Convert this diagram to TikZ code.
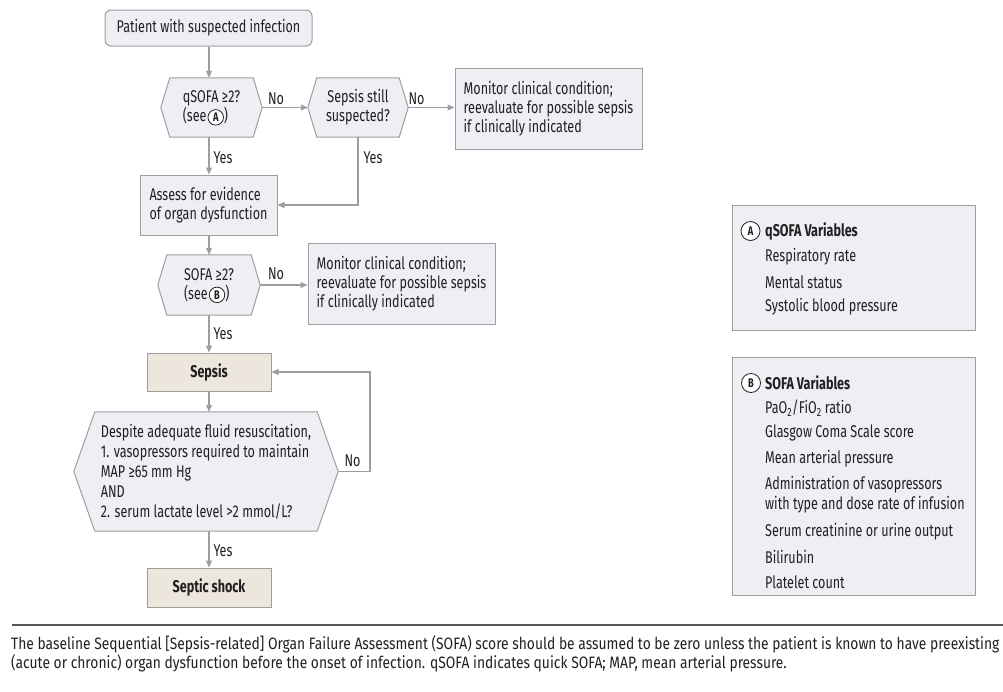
\documentclass[tikz,border=0pt]{standalone}
\usepackage{fontspec}
\usepackage{pict2e}
\setmainfont[FakeStretch=0.74]{Fira Sans}
\newfontfamily\footfont[FakeStretch=0.838]{Fira Sans}
\usetikzlibrary{arrows.meta,backgrounds}
\definecolor{boxfill}{RGB}{238,238,244}
\definecolor{beige}{RGB}{236,230,220}
\definecolor{edge}{RGB}{158,158,158}
\definecolor{ink}{RGB}{35,31,32}
\definecolor{rule}{RGB}{85,85,85}
\newcommand\drawhex[2]{%
  \begin{pgfonlayer}{background}
    \draw[draw=edge,fill=boxfill,line width=1pt]
      ([xshift=#2pt]#1.north west) -- ([xshift=-#2pt]#1.north east) -- (#1.east)
      -- ([xshift=-#2pt]#1.south east) -- ([xshift=#2pt]#1.south west) -- (#1.west) -- cycle;
  \end{pgfonlayer}}
\newcommand\circlet[1]{{\setlength{\unitlength}{1pt}\hspace{1.5pt}%
  \begin{picture}(15.5,0)%
    \put(7.75,4.2){\color{white}\circle*{15.5}}%
    \linethickness{0.8pt}%
    \put(7.75,4.2){\color{ink}\circle{15.5}}%
    \put(7.75,4.2){\makebox(0,0){\fontsize{12.5}{12.5}\selectfont\bfseries #1}}%
  \end{picture}\hspace{0.5pt}}}
\begin{document}
\begin{tikzpicture}[x=1pt,y=-1pt,
  base/.style={text=ink,inner sep=0pt,font=\fontsize{17}{18.7}\selectfont},
  box/.style={base,draw=edge,fill=boxfill,line width=1pt},
  beigebox/.style={base,draw=edge,fill=beige,line width=1pt,font=\fontsize{17}{18.7}\selectfont\bfseries},
  hexnode/.style={base},
  lbl/.style={base},
  bigcirc/.style={circle,draw=ink,fill=white,line width=0.8pt,inner sep=0pt,minimum size=19pt,
    text=ink,font=\fontsize{12.5}{12.5}\selectfont\bfseries},
  item/.style={base,anchor=west},
  arr/.style={draw=edge,line width=1.1pt,-{Triangle[length=7pt,width=6pt]}},
  foot/.style={text=ink,inner sep=0pt,anchor=base west,font=\footfont\fontsize{16.5}{19}\selectfont}
]
\useasboundingbox (0,0) rectangle (1003,691);

% main flow
\node[box,rounded corners=6pt,minimum width=207pt,minimum height=36pt] (start) at (208.5,28) {Patient with suspected infection};
\node[hexnode,align=left,minimum width=101pt,minimum height=59pt] (q1) at (211.5,107.5) {qSOFA ≥2?\\(see\circlet{A})};
\node[hexnode,align=center,minimum width=100pt,minimum height=59pt] (q2) at (358,107.5) {Sepsis still\\suspected?};
\node[box,align=left,minimum width=187pt,minimum height=81pt] (mon1) at (548.5,108.5) {Monitor clinical condition;\\reevaluate for possible sepsis\\if clinically indicated};
\node[box,align=left,minimum width=137pt,minimum height=60pt] (assess) at (208.5,205) {Assess for evidence\\of organ dysfunction};
\node[hexnode,align=left,minimum width=102pt,minimum height=60pt] (q3) at (209,285) {SOFA ≥2?\\(see\circlet{B})};
\node[box,align=left,minimum width=187pt,minimum height=81pt] (mon2) at (401.5,283.5) {Monitor clinical condition;\\reevaluate for possible sepsis\\if clinically indicated};
\node[beigebox,minimum width=124pt,minimum height=38pt] (sepsis) at (209,372) {Sepsis};
\node[hexnode,align=left,minimum width=264pt,minimum height=119pt,font=\fontsize{17}{20}\selectfont] (q4) at (206,471.5) {Despite adequate fluid resuscitation,\\1. vasopressors required to maintain\\MAP ≥65 mm Hg\\AND\\2. serum lactate level >2 mmol/L?};
\node[beigebox,minimum width=124pt,minimum height=39pt] (shock) at (209,587.5) {Septic shock};

\drawhex{q1}{9}
\drawhex{q2}{9}
\drawhex{q3}{9}
\drawhex{q4}{21}

% connectors
\draw[arr] (start.south -| 209,0) -- (q1.north -| 209,0);
\draw[arr] (q1.east) -- (q2.west);
\draw[arr] (q2.east) -- (q2.east -| mon1.west);
\draw[arr] (q1.south -| 209,0) -- (assess.north -| 209,0);
\draw[arr] (q2.south) |- (assess.east);
\draw[arr] (assess.south -| 209,0) -- (q3.north -| 209,0);
\draw[arr] (q3.east) -- (q3.east -| mon2.west);
\draw[arr] (q3.south) -- (sepsis.north);
\draw[arr] (sepsis.south) -- (q4.north -| sepsis.south);
\draw[arr] (q4.south -| shock.north) -- (shock.north);
\coordinate (loop) at (370,471.5);
\draw[arr] (q4.east) -- (loop) |- (sepsis.east);

\node[lbl] (no1) at (276,99) {No};
\node[lbl] (no2) at (416.5,99) {No};
\node[lbl] (yes1) at (223,158) {Yes};
\node[lbl] (yes2) at (373,158) {Yes};
\node[lbl] (no3) at (276,274) {No};
\node[lbl] (yes3) at (223,334) {Yes};
\node[lbl] (no4) at (352.5,461) {No};
\node[lbl] (yes4) at (223,551) {Yes};

% legend A
\node[box,minimum width=243pt,minimum height=125pt] (legA) at (853.5,267.5) {};
\node[bigcirc] (ca2) at (750.5,231) {A};
\node[item,font=\fontsize{17}{18.7}\selectfont\bfseries] (la0) at (765,231) {qSOFA Variables};
\node[item] (la1) at (765,257) {Respiratory rate};
\node[item] (la2) at (765,282) {Mental status};
\node[item] (la3) at (765,307) {Systolic blood pressure};

% legend B
\node[box,minimum width=243pt,minimum height=238pt] (legB) at (853.5,476) {};
\node[bigcirc] (cb2) at (751,383) {B};
\node[item,font=\fontsize{17}{18.7}\selectfont\bfseries] (lb0) at (765,383) {SOFA Variables};
\node[item] (lb1) at (765,408) {PaO\textsubscript{2}/FiO\textsubscript{2} ratio};
\node[item] (lb2) at (765,433) {Glasgow Coma Scale score};
\node[item] (lb3) at (765,459) {Mean arterial pressure};
\node[item] (lb4) at (765,485) {Administration of vasopressors};
\node[item] (lb5) at (765,505) {with type and dose rate of infusion};
\node[item] (lb6) at (765,532) {Serum creatinine or urine output};
\node[item] (lb7) at (765,557) {Bilirubin};
\node[item] (lb8) at (765,582) {Platelet count};

% footer
\coordinate (r0) at (12,625);
\coordinate (r1) at (1003,625);
\draw[draw=rule,line width=2pt] (r0) -- (r1);
\node[foot] (f1) at (11,649) {The baseline Sequential [Sepsis-related] Organ Failure Assessment (SOFA) score should be assumed to be zero unless the patient is known to have preexisting};
\node[foot] (f2) at (11,668) {(acute or chronic) organ dysfunction before the onset of infection. qSOFA indicates quick SOFA; MAP, mean arterial pressure.};
\end{tikzpicture}
\end{document}
